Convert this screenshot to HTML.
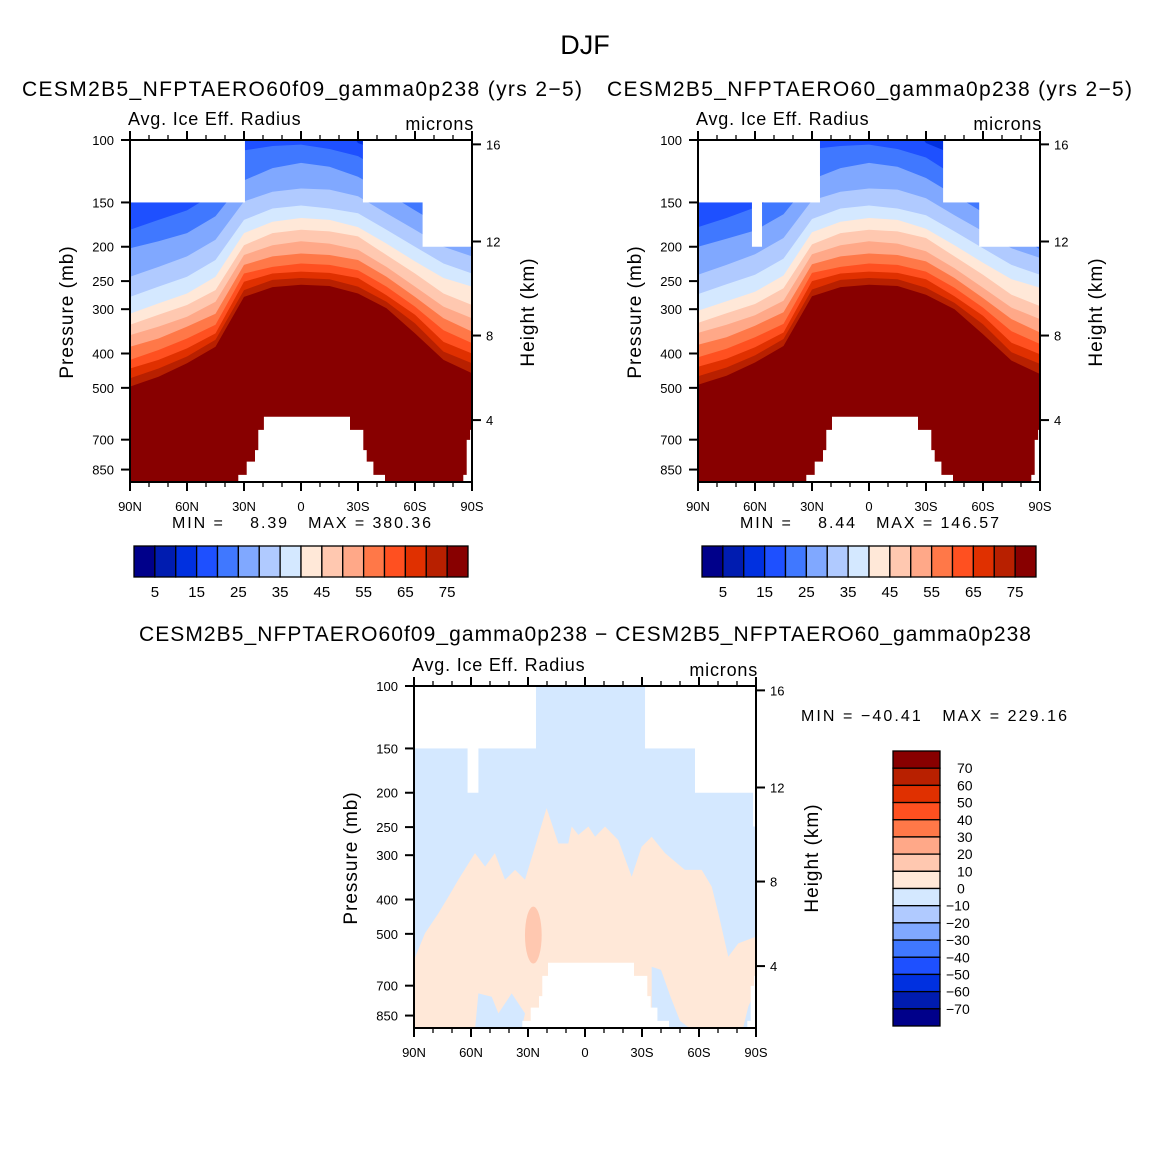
<!DOCTYPE html>
<html><head><meta charset="utf-8"><style>
html,body{margin:0;padding:0;background:#fff;}
svg text{font-family:"Liberation Sans",sans-serif;fill:#000;}
</style></head><body>
<svg id="fig" width="1171" height="1171" viewBox="0 0 1171 1171" xmlns="http://www.w3.org/2000/svg">
<rect width="1171" height="1171" fill="#fff"/>
<text x="585" y="54" font-size="27" text-anchor="middle">DJF</text>
<text x="22" y="96" font-size="21" textLength="560">CESM2B5_NFPTAERO60f09_gamma0p238 (yrs 2−5)</text>
<text x="607" y="96" font-size="21" textLength="525">CESM2B5_NFPTAERO60_gamma0p238 (yrs 2−5)</text>
<text x="139" y="641" font-size="21" textLength="892">CESM2B5_NFPTAERO60f09_gamma0p238 − CESM2B5_NFPTAERO60_gamma0p238</text>
<g id="p1"></g>
<g id="p2"></g>
<g id="p3"></g>
<g id="cb"></g>
</svg>
<script>
// ---------- data ----------
const palette = ["#00008a","#001cb0","#0030e0","#1e50ff","#4078ff","#80a8ff","#b0caff","#d4e8ff","#ffe8d8","#ffc8b0","#ffa888","#ff7848","#ff5020","#e03000","#b82000","#880000"];
const lats = [90,75,60,45,30,15,0,-15,-30,-45,-60,-75,-90];
const levels = [15,20,25,30,35,40,45,50,55,60,65,70,75];
const boundsP1 = [
 [144,179,202,243,277,309,332,355,383,417,441,470,496],
 [141,168,193,228,259,289,311,336,363,391,417,441,465],
 [130,158,183,213,243,271,292,315,336,363,387,408,426],
 [116,141,164,191,218,243,265,286,309,332,351,366,383],
 [82,107,130,149,168,183,198,211,225,238,251,265,277],
 [79,104,120,140,156,170,183,198,213,228,238,248,260],
 [77,103,116,137,153,166,179,193,209,223,235,245,256],
 [80,106,119,138,156,168,181,196,211,225,237,247,258],
 [102,111,127,144,161,176,187,204,218,233,245,259,271],
 [109,124,141,161,179,196,211,228,243,259,274,286,298],
 [121,138,158,179,200,220,238,259,277,295,311,329,351],
 [130,148,176,200,223,245,271,295,318,344,371,395,417],
 [135,154,202,213,238,259,292,318,347,374,400,426,455]
];
const boundsP2 = [
 [140,176,200,240,272,303,328,350,378,410,436,464,490],
 [138,166,190,225,255,285,308,332,360,388,414,438,462],
 [128,155,180,210,240,268,290,312,334,360,384,405,424],
 [115,140,162,189,216,241,262,284,306,330,349,364,381],
 [82,106,129,148,167,182,197,210,224,237,250,264,276],
 [79,104,120,140,156,170,183,198,213,228,238,248,260],
 [77,103,116,137,153,166,179,193,209,223,235,245,256],
 [80,106,119,138,156,168,181,196,211,225,237,247,258],
 [102,112,128,146,163,178,189,206,220,235,247,261,273],
 [110,126,143,163,181,198,213,230,245,261,276,288,300],
 [122,140,160,181,202,222,240,261,279,297,313,331,353],
 [131,150,178,202,225,247,273,297,320,346,373,397,419],
 [136,156,204,215,240,261,294,320,349,376,402,428,457]
];
const topoLat = [33,33,28.6,28.6,24.2,24.2,22.5,22.5,19.5,19.5,-25.8,-25.8,-32.8,-32.8,-34.6,-34.6,-38.1,-38.1,-44.2,-44.2];
const topoP   = [930,880,880,807,807,749,749,657,657,603,603,657,657,749,749,807,807,880,880,930];
const antLat = [-85.4,-85.4,-87.2,-87.2,-89,-89,-91,-91];
const antP   = [930,880,880,701,701,657,657,930];
const missing1 = [[91,29.5,99,150],[-32.6,-91,99,150],[-64,-91,149,200]];
const missing2 = [[91,25.8,99,150],[-39,-91,99,150],[61.6,56.3,149,200],[-58,-91,149,200]];
const missing3 = [[91,25.8,99,150],[-31.6,-91,99,150],[61.8,56.1,149,200],[-57.9,-91,149,200],[-88.5,-91,199,249]];
const zeroLat = [90,84.2,77.2,71.9,66.7,57.9,52.6,47.4,42.1,36.8,31.6,26.3,20.2,14.0,8.8,7.0,3.5,-1.8,-5.3,-10.5,-17.5,-24.6,-29.8,-35.1,-42.1,-52.6,-61.4,-66.7,-70.2,-75.4,-80.7,-90];
const zeroP   = [593,498,438,393,352,296,323,296,352,330,352,284,221,278,278,249,263,249,266,249,272,345,284,266,296,330,330,368,438,580,532,509];
const negPatchLat = [57.9,56.1,49.1,45.6,38.6,31.6,33.4];
const negPatchP   = [930,736,752,838,736,838,930];
const negPatch2Lat = [-35.1,-40,-45,-50,-56,-35.1];
const negPatch2P   = [619,632,752,880,930,930];
const negPatch3Lat = [-83,-86,-88.5,-91,-91,-80];
const negPatch3P   = [930,800,750,740,930,930];
const posOvalLat = [31.6,27.2,22.8];
const posOvalP   = [419,504,606];
const xTickLat = [90,60,30,0,-30,-60,-90];
const xTickLbl = ["90N","60N","30N","0","30S","60S","90S"];
const pTicks = [100,150,200,250,300,400,500,700,850];
const hTicks = [16,12,8,4];
const cbLabels1 = [5,15,25,35,45,55,65,75];
const cbLabels3 = [70,60,50,40,30,20,10,0,-10,-20,-30,-40,-50,-60,-70];

// ---------- helpers ----------
const NS="http://www.w3.org/2000/svg";
const W=342,H=342,K=154;
function el(tag,attrs,parent){const e=document.createElementNS(NS,tag);for(const k in attrs)e.setAttribute(k,attrs[k]);parent.appendChild(e);return e;}
function hToP(z){z*=1000;if(z<=11000)return 1013.25*Math.pow(1-2.25577e-5*z,5.25588);return 226.32*Math.exp(-(z-11000)/6341.6);}
function mk(ox,oy){return {x:lat=>ox+(90-lat)/180*W, y:p=>oy+K*Math.log(p/100)};}
function polyPath(xs,ys){return xs.map((v,i)=>(i?"L":"M")+v.toFixed(1)+","+ys[i].toFixed(1)).join("")+"Z";}

function drawMasks(g,a,missing){
  missing.forEach(m=>{
    const x1=a.x(m[0]),x2=a.x(m[1]),y1=a.y(m[2]),y2=a.y(m[3]);
    const r=el("rect",{x:Math.min(x1,x2),y:y1,width:Math.abs(x2-x1),height:y2-y1,fill:"#fff"},g);
    
    
  });
  const t=el("path",{d:polyPath(topoLat.map(a.x),topoP.map(a.y)),fill:"#fff"},g);
  
  
  const an=el("path",{d:polyPath(antLat.map(a.x),antP.map(a.y)),fill:"#fff"},g);
  
  
}

function drawAxes(g,ox,oy,a,cfg){
  const ax=el("g",{},g);
  
  
  el("rect",{x:ox,y:oy,width:W,height:H,fill:"none",stroke:"#000","stroke-width":2},ax);
  for(let lat=90;lat>=-90;lat-=10){
    const x=a.x(lat),maj=(lat%30===0);
    const L=maj?9:5;
    el("line",{x1:x,y1:oy,x2:x,y2:oy-L,stroke:"#000","stroke-width":maj?2:1.3},ax);
    el("line",{x1:x,y1:oy+H,x2:x,y2:oy+H+L,stroke:"#000","stroke-width":maj?2:1.3},ax);
  }
  xTickLat.forEach((lat,i)=>{
    const t=el("text",{x:a.x(lat),y:oy+H+29,"font-size":13,"text-anchor":"middle"},ax);
    t.textContent=xTickLbl[i];
    
    
  });
  pTicks.forEach(p=>{
    const y=a.y(p);
    el("line",{x1:ox,y1:y,x2:ox-9,y2:y,stroke:"#000","stroke-width":2},ax);
    const t=el("text",{x:ox-16,y:y+5,"font-size":13,"text-anchor":"end"},ax);
    t.textContent=p;
    
    
  });
  hTicks.forEach(h=>{
    const y=a.y(hToP(h));
    el("line",{x1:ox+W,y1:y,x2:ox+W+9,y2:y,stroke:"#000","stroke-width":2},ax);
    const t=el("text",{x:ox+W+14,y:y+5,"font-size":13},ax);
    t.textContent=h;
    
    
  });
  const yl=el("text",{x:0,y:0,"font-size":19,"text-anchor":"middle",transform:`translate(${ox-57},${oy+172}) rotate(-90)`,"letter-spacing":1},ax);
  yl.textContent="Pressure (mb)";
  
  
  const yr=el("text",{x:0,y:0,"font-size":19,"text-anchor":"middle",transform:`translate(${ox+W+62},${oy+172}) rotate(-90)`,"letter-spacing":1},ax);
  yr.textContent="Height (km)";
  
  
  const ls=el("text",{x:ox-2,y:oy-15,"font-size":18,"letter-spacing":0.8},ax);
  ls.textContent="Avg. Ice Eff. Radius";
  
  
  const rs=el("text",{x:ox+W+2,y:oy-10,"font-size":18,"text-anchor":"end","letter-spacing":0.8},ax);
  rs.textContent="microns";
  
  
  if(cfg.minmax){
    const mm=el("text",{x:cfg.mmx,y:cfg.mmy,"font-size":16,textLength:cfg.mmw,style:"white-space:pre"},ax);
    mm.textContent=cfg.minmax;
    
    
  }
}

function drawField(id,ox,oy,bounds,missing,minmax){
  const g=document.getElementById(id);
  const a=mk(ox,oy);
  const cid="clip"+id;
  const cp=el("clipPath",{id:cid},g);el("rect",{x:ox,y:oy,width:W,height:H},cp);
  const f=el("g",{"clip-path":`url(#${cid})`},g);
  
  
  el("rect",{x:ox,y:oy,width:W,height:H,fill:palette[2]},f);
  levels.forEach((L,j)=>{
    const xs=lats.map(a.x), ys=lats.map((_,i)=>a.y(bounds[i][j]));
    xs.unshift(ox-2);ys.unshift(ys[0]);xs.push(ox+W+2);ys.push(ys[ys.length-1]);
    xs.push(ox+W+2,ox-2);ys.push(oy+H+5,oy+H+5);
    const p=el("path",{d:polyPath(xs,ys),fill:palette[Math.min(15,L/5)]},f);
    
    
  });
  drawMasks(f,a,missing);
  drawAxes(g,ox,oy,a,{minmax:minmax,mmx:ox+42,mmy:oy+388,mmw:259});
}

drawField("p1",130,140,boundsP1,missing1,"MIN =    8.39   MAX = 380.36");
drawField("p2",698,140,boundsP2,missing2,"MIN =    8.44   MAX = 146.57");

(function(){
  const ox=414,oy=686,g=document.getElementById("p3"),a=mk(ox,oy);
  const cp=el("clipPath",{id:"clipp3"},g);el("rect",{x:ox,y:oy,width:W,height:H},cp);
  const f=el("g",{"clip-path":"url(#clipp3)"},g);
  
  
  el("rect",{x:ox,y:oy,width:W,height:H,fill:palette[7]},f);
  const xs=zeroLat.map(a.x),ys=zeroP.map(a.y);
  xs.push(ox+W+2,ox-2);ys.push(oy+H+5,oy+H+5);
  const pos=el("path",{d:polyPath(xs,ys),fill:palette[8]},f);
  
  
  [[negPatchLat,negPatchP],[negPatch2Lat,negPatch2P],[negPatch3Lat,negPatch3P]].forEach(([la,pp])=>{
    const n=el("path",{d:polyPath(la.map(a.x),pp.map(a.y)),fill:palette[7]},f);
    
    
  });
  const cx=a.x(posOvalLat[1]),cy=a.y(posOvalP[1]);
  const ov=el("ellipse",{cx:cx,cy:cy,rx:(a.x(posOvalLat[2])-a.x(posOvalLat[0]))/2,ry:(a.y(posOvalP[2])-a.y(posOvalP[0]))/2,fill:palette[9]},f);
  
  
  drawMasks(f,a,missing3);
  drawAxes(g,ox,oy,a,{minmax:"MIN = −40.41   MAX = 229.16",mmx:801,mmy:721,mmw:266});
})();

(function(){
  const g=document.getElementById("cb");
  [[134,546],[702,546]].forEach(([x0,y0])=>{
    const bw=334/16;
    palette.forEach((c,i)=>{
      const r=el("rect",{x:x0+i*bw,y:y0,width:bw,height:31,fill:c,stroke:"#000","stroke-width":1.3},g);
      
      
    });
    cbLabels1.forEach(v=>{
      const t=el("text",{x:x0+(v/5)*bw,y:y0+51,"font-size":15,"text-anchor":"middle"},g);
      t.textContent=v;
      
      
    });
  });
  const x0=893,y0=751,bh=275/16;
  palette.slice().reverse().forEach((c,i)=>{
    const r=el("rect",{x:x0,y:y0+i*bh,width:47,height:bh,fill:c,stroke:"#000","stroke-width":1.3},g);
    
    
  });
  cbLabels3.forEach((v,i)=>{
    const t=el("text",{x:v<0?946:957,y:y0+(i+1)*bh+5,"font-size":14},g);
    t.textContent=v<0?"−"+(-v):v;
    
    
  });
})();
</script>
</body></html>
